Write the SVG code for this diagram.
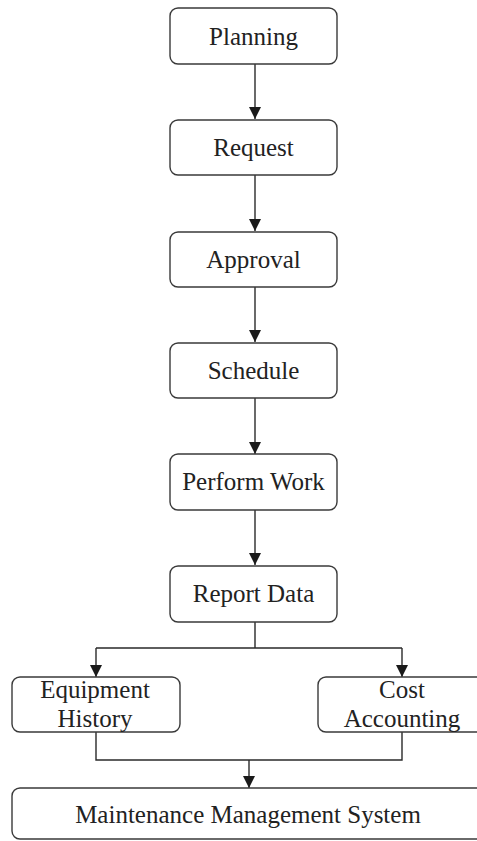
<svg xmlns="http://www.w3.org/2000/svg" width="477" height="841" viewBox="0 0 477 841">
  <style>
    .box { fill: #ffffff; stroke: #3a3a3a; stroke-width: 1.4; }
    .lbl { font-family: 'Liberation Serif', 'Times New Roman', serif; font-size: 25px; fill: #222222; text-anchor: middle; }
    .edge { fill: none; stroke: #2a2a2a; stroke-width: 1.4; }
  </style>
  <defs>
    <marker id="arrow" markerUnits="userSpaceOnUse" markerWidth="12" markerHeight="12" viewBox="0 0 12 12" refX="12" refY="6" orient="auto">
      <path d="M0,0 L12,6 L0,12 Z" fill="#1a1a1a"/>
    </marker>
  </defs>
  <rect width="477" height="841" fill="#ffffff"/>

  <!-- flow connectors -->
  <g id="connectors">
    <line class="edge" x1="255" y1="64" x2="255" y2="119" marker-end="url(#arrow)"/>
    <line class="edge" x1="255" y1="175" x2="255" y2="231" marker-end="url(#arrow)"/>
    <line class="edge" x1="255" y1="287" x2="255" y2="342" marker-end="url(#arrow)"/>
    <line class="edge" x1="255" y1="398" x2="255" y2="454" marker-end="url(#arrow)"/>
    <line class="edge" x1="255" y1="510" x2="255" y2="565" marker-end="url(#arrow)"/>
    <path class="edge" d="M255,622 V648 M96,648 H402"/>
    <line class="edge" x1="96" y1="648" x2="96" y2="677" marker-end="url(#arrow)"/>
    <line class="edge" x1="402" y1="648" x2="402" y2="677" marker-end="url(#arrow)"/>
    <path class="edge" d="M96,732 V760 H402 V732"/>
    <line class="edge" x1="249" y1="760" x2="249" y2="788" marker-end="url(#arrow)"/>
  </g>

  <g id="planning">
    <rect class="box" x="170" y="8" width="167" height="56" rx="8"/>
    <text class="lbl" x="253.5" y="45">Planning</text>
  </g>
  <g id="request">
    <rect class="box" x="170" y="120" width="167" height="55" rx="8"/>
    <text class="lbl" x="253.5" y="156">Request</text>
  </g>
  <g id="approval">
    <rect class="box" x="170" y="232" width="167" height="55" rx="8"/>
    <text class="lbl" x="253.5" y="268">Approval</text>
  </g>
  <g id="schedule">
    <rect class="box" x="170" y="343" width="167" height="55" rx="8"/>
    <text class="lbl" x="253.5" y="379">Schedule</text>
  </g>
  <g id="perform-work">
    <rect class="box" x="170" y="454" width="167" height="56" rx="8"/>
    <text class="lbl" x="253.5" y="490">Perform Work</text>
  </g>
  <g id="report-data">
    <rect class="box" x="170" y="566" width="167" height="56" rx="8"/>
    <text class="lbl" x="253.5" y="602">Report Data</text>
  </g>
  <g id="equipment-history">
    <rect class="box" x="12" y="677" width="168" height="55" rx="8"/>
    <text class="lbl" x="95" y="698">Equipment</text>
    <text class="lbl" x="95" y="727">History</text>
  </g>
  <g id="cost-accounting">
    <rect class="box" x="318" y="677" width="168" height="55" rx="8"/>
    <text class="lbl" x="402" y="698">Cost</text>
    <text class="lbl" x="402" y="727">Accounting</text>
  </g>
  <g id="maintenance-management-system">
    <rect class="box" x="12" y="788" width="472" height="51" rx="8"/>
    <text class="lbl" x="248" y="823">Maintenance Management System</text>
  </g>
</svg>
